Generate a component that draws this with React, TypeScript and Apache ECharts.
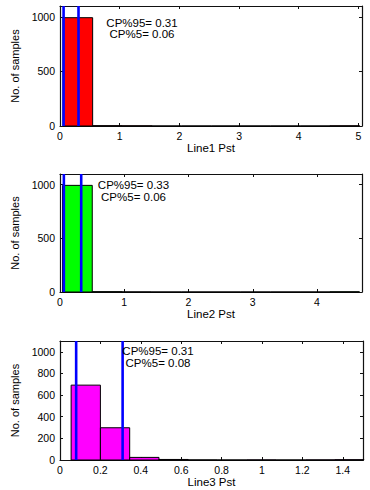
import React, { useEffect, useRef } from "react";
import * as echarts from "echarts";

// Histogram bin edges and counts
const edges1 = [0.05, 0.547, 1.044, 1.541, 2.038, 2.535, 3.032, 3.529, 4.026, 4.523, 5.02];
const counts1 = [993, 3, 2, 0, 0, 0, 0, 0, 0, 2];
const edges2 = [0.04, 0.502, 0.964, 1.426, 1.888, 2.35, 2.812, 3.274, 3.736, 4.198, 4.66];
const counts2 = [994, 3, 1, 0, 0, 0, 0, 0, 0, 2];
const edges3 = [0.055, 0.2, 0.345, 0.49, 0.635, 0.78, 0.925, 1.07, 1.215, 1.36, 1.505];
const counts3 = [692, 298, 24, 5, 1, 0, 1, 0, 1, 3];

const cp5 = [0.06, 0.06, 0.08];
const cp95 = [0.31, 0.33, 0.31];
const cp95Text = ["CP%95= 0.31", "CP%95= 0.33", "CP%95= 0.31"];
const cp5Text = ["CP%5= 0.06", "CP%5= 0.06", "CP%5= 0.08"];
const xNames = ["Line1 Pst", "Line2 Pst", "Line3 Pst"];
const yName = "No. of samples";
const xMax = [5.06, 4.7, 1.5];
const xInterval = [1, 1, 0.2];
const yMax = [1100, 1100, 1100];
const yInterval = [500, 500, 200];
const barColors = ["#ff0000", "#00ff00", "#ff00ff"];

const FONT = "Liberation Sans, Arial, Helvetica, sans-serif";

export default function App() {
  const ref = useRef<HTMLDivElement>(null);
  useEffect(() => {
    if (!ref.current) return;
    const chart = echarts.init(ref.current, undefined, { renderer: "svg" });
    const edges = [edges1, edges2, edges3];
    const counts = [counts1, counts2, counts3];
    const grids = [
      { left: 60, top: 6, width: 302, height: 120 },
      { left: 60, top: 174, width: 302, height: 118 },
      { left: 60, top: 341, width: 303, height: 119 },
    ];
    const textPos = [
      { cx: 142, y1: 22.7, y2: 33.5 },
      { cx: 133.5, y1: 185, y2: 197.3 },
      { cx: 158, y1: 350.7, y2: 363.3 },
    ];
    const frame = { lineStyle: { color: "#111", width: 1.2 } };
    const fmt = (v: number) => String(Math.round(v * 1000) / 1000);
    const xAxes: any[] = [];
    const yAxes: any[] = [];
    const series: any[] = [];
    const graphics: any[] = [];
    for (let i = 0; i < 3; i++) {
      xAxes.push({
        type: "value",
        gridIndex: i,
        min: 0,
        max: xMax[i],
        interval: xInterval[i],
        position: "bottom",
        name: xNames[i],
        nameLocation: "middle",
        nameGap: 16,
        nameTextStyle: { fontFamily: FONT, fontSize: 11.5, color: "#000" },
        axisLine: { show: true, onZero: false, ...frame },
        axisTick: { show: true, inside: true, length: 3, lineStyle: { color: "#111" } },
        axisLabel: { fontFamily: FONT, fontSize: 10.5, color: "#000", margin: 4, showMaxLabel: false, formatter: fmt },
        splitLine: { show: false },
      });
      xAxes.push({
        type: "value",
        gridIndex: i,
        min: 0,
        max: xMax[i],
        interval: xInterval[i],
        position: "top",
        axisLine: { show: true, onZero: false, ...frame },
        axisTick: { show: true, inside: true, length: 3, lineStyle: { color: "#111" } },
        axisLabel: { show: false },
        splitLine: { show: false },
      });
      yAxes.push({
        type: "value",
        gridIndex: i,
        min: 0,
        max: yMax[i],
        interval: yInterval[i],
        position: "left",
        name: yName,
        nameLocation: "middle",
        nameGap: 33,
        nameTextStyle: { fontFamily: FONT, fontSize: 11, color: "#000" },
        axisLine: { show: true, onZero: false, ...frame },
        axisTick: { show: true, inside: true, length: 3, lineStyle: { color: "#111" } },
        axisLabel: { fontFamily: FONT, fontSize: 10.5, color: "#000", margin: 5, showMaxLabel: false, formatter: fmt },
        splitLine: { show: false },
      });
      yAxes.push({
        type: "value",
        gridIndex: i,
        min: 0,
        max: yMax[i],
        interval: yInterval[i],
        position: "right",
        axisLine: { show: true, onZero: false, ...frame },
        axisTick: { show: true, inside: true, length: 3, lineStyle: { color: "#111" } },
        axisLabel: { show: false },
        splitLine: { show: false },
      });
      const e = edges[i];
      const c = counts[i];
      const color = barColors[i];
      series.push({
        type: "custom",
        xAxisIndex: i * 2,
        yAxisIndex: i * 2,
        data: c.map((v, k) => [e[k], e[k + 1], v]),
        encode: { x: [0, 1], y: 2 },
        renderItem: (params: any, api: any) => {
          const p0 = api.coord([api.value(0), api.value(2)]);
          const p1 = api.coord([api.value(1), 0]);
          return {
            type: "rect",
            shape: { x: p0[0], y: p0[1], width: p1[0] - p0[0], height: p1[1] - p0[1] },
            style: { fill: color, stroke: "#000", lineWidth: 1 },
          };
        },
        z: 2,
      });
      series.push({
        type: "custom",
        xAxisIndex: i * 2,
        yAxisIndex: i * 2,
        data: [[cp5[i]], [cp95[i]]],
        encode: { x: 0 },
        renderItem: (params: any, api: any) => {
          const x = api.coord([api.value(0), 0])[0];
          const cs = params.coordSys;
          return {
            type: "line",
            shape: { x1: x, y1: cs.y, x2: x, y2: cs.y + cs.height },
            style: { stroke: "#0000ff", lineWidth: 2.6 },
          };
        },
        z: 3,
      });
      const tp = textPos[i];
      graphics.push({
        type: "text",
        x: tp.cx,
        y: tp.y1,
        style: {
          text: cp95Text[i],
          fontFamily: FONT,
          fontSize: 11.5,
          fill: "#000",
          textAlign: "center",
          textVerticalAlign: "middle",
        },
        z: 10,
      });
      graphics.push({
        type: "text",
        x: tp.cx,
        y: tp.y2,
        style: {
          text: cp5Text[i],
          fontFamily: FONT,
          fontSize: 11.5,
          fill: "#000",
          textAlign: "center",
          textVerticalAlign: "middle",
        },
        z: 10,
      });
    }
    chart.setOption({
      animation: false,
      backgroundColor: "#fff",
      grid: grids.map((g) => ({ ...g, containLabel: false })),
      xAxis: xAxes,
      yAxis: yAxes,
      series,
      graphic: graphics,
    });
    return () => chart.dispose();
  }, []);
  return (
    <div
      ref={ref}
      style={{ position: "absolute", left: 0, top: 0, width: 370, height: 490 }}
    />
  );
}
